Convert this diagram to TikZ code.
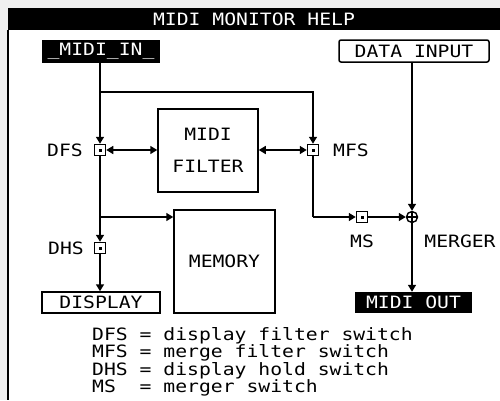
\documentclass[tikz,border=0pt]{standalone}
\usepackage{fontspec}
\newfontfamily\pxfont[FakeStretch=1.16]{DejaVu Sans Mono}
\usetikzlibrary{arrows.meta}
\begin{document}
\begin{tikzpicture}[x=1pt,y=-1pt,
  every node/.style={font=\pxfont\fontsize{17}{17}\selectfont, inner sep=0pt},
  wire/.style={line width=1.5pt},
  arr/.style={wire,-{Triangle[length=7pt,width=8pt]}},
  darr/.style={wire,{Triangle[length=7pt,width=8pt]}-{Triangle[length=7pt,width=8pt]}},
  boxw/.style={draw,line width=1.5pt,fill=white},
  boxb/.style={fill=black,text=white},
  sw/.style={draw,line width=1.5pt,fill=white,minimum width=11pt,minimum height=11pt,
    path picture={\fill[black] ([xshift=-1.5pt,yshift=-1.5pt]path picture bounding box.center) rectangle ([xshift=1.5pt,yshift=1.5pt]path picture bounding box.center);}},
  mrg/.style={draw,line width=1.4pt,circle,fill=white,minimum size=11pt,
    path picture={\draw[line width=1.1pt] (path picture bounding box.north) -- (path picture bounding box.south)
      (path picture bounding box.west) -- (path picture bounding box.east);}}
]
\useasboundingbox (0,0) rectangle (500,400);
\fill[white] (0,0) rectangle (500,400);
\fill[gray!12] (0,0) rectangle (500,8);
\fill[gray!12] (0,0) rectangle (8,400);
% frame and title
\fill[black] (8,8) rectangle (500,30);
\draw[line width=1.8pt] (8,30) -- (8,400);
\node[text=white] (title) at (254,19) {MIDI MONITOR HELP};
% boxes
\node[boxb,minimum width=118pt,minimum height=23pt] (midiin) at (101,51.5) {\_MIDI\_IN\_};
\node[boxw,rounded corners=2pt,minimum width=150pt,minimum height=22pt] (datain) at (414,51) {DATA INPUT};
\node[boxw,minimum width=100pt,minimum height=83pt,align=center] (filter) at (208,150.5) {MIDI\\[15pt]FILTER};
\node[boxw,minimum width=101pt,minimum height=103pt] (memory) at (224.5,261.5) {MEMORY};
\node[boxw,minimum width=118pt,minimum height=21pt] (display) at (101,302.5) {DISPLAY};
\node[boxb,minimum width=117pt,minimum height=21pt] (midiout) at (413.5,302.5) {MIDI OUT};
% switches
\node[sw] (dfs) at (100,150) {};
\node[sw] (mfs) at (313,150) {};
\node[sw] (dhs) at (100,248) {};
\node[sw] (ms) at (362,217) {};
\node[mrg] (merger) at (412,217) {};
% labels
\node (ldfs) at (65,150) {DFS};
\node (lmfs) at (351,150) {MFS};
\node (ldhs) at (66,248) {DHS};
\node (lms) at (362,241) {MS};
\node (lmerger) at (460,241) {MERGER};
% connectors
\coordinate (j1) at (100,92);
\coordinate (j2) at (100,217);
\coordinate (j3) at (313,217);
\draw[arr] (dfs |- midiin.south) -- (dfs.north);
\draw[arr] (j1) -| (mfs.north);
\draw[darr] (dfs.east) -- (filter.west |- dfs);
\draw[darr] (filter.east |- mfs) -- (mfs.west);
\draw[wire] (mfs.south) -- (j3);
\draw[arr] (j3) -- (ms.west);
\draw[arr] (ms.east) -- (merger.west);
\draw[arr] (merger |- datain.south) -- (merger.north);
\draw[arr] (merger.south) -- (merger |- midiout.north);
\draw[arr] (dfs.south) -- (dhs.north);
\draw[arr] (j2) -- (memory.west |- j2);
\draw[arr] (dhs.south) -- (dhs |- display.north);
% legend
\node[anchor=base west] (leg1) at (92,340) {DFS = display filter switch};
\node[anchor=base west] (leg2) at (92,357.5) {MFS = merge filter switch};
\node[anchor=base west] (leg3) at (92,375) {DHS = display hold switch};
\node[anchor=base west] (leg4) at (92,392.5) {MS\ \ = merger switch};
\end{tikzpicture}
\end{document}
